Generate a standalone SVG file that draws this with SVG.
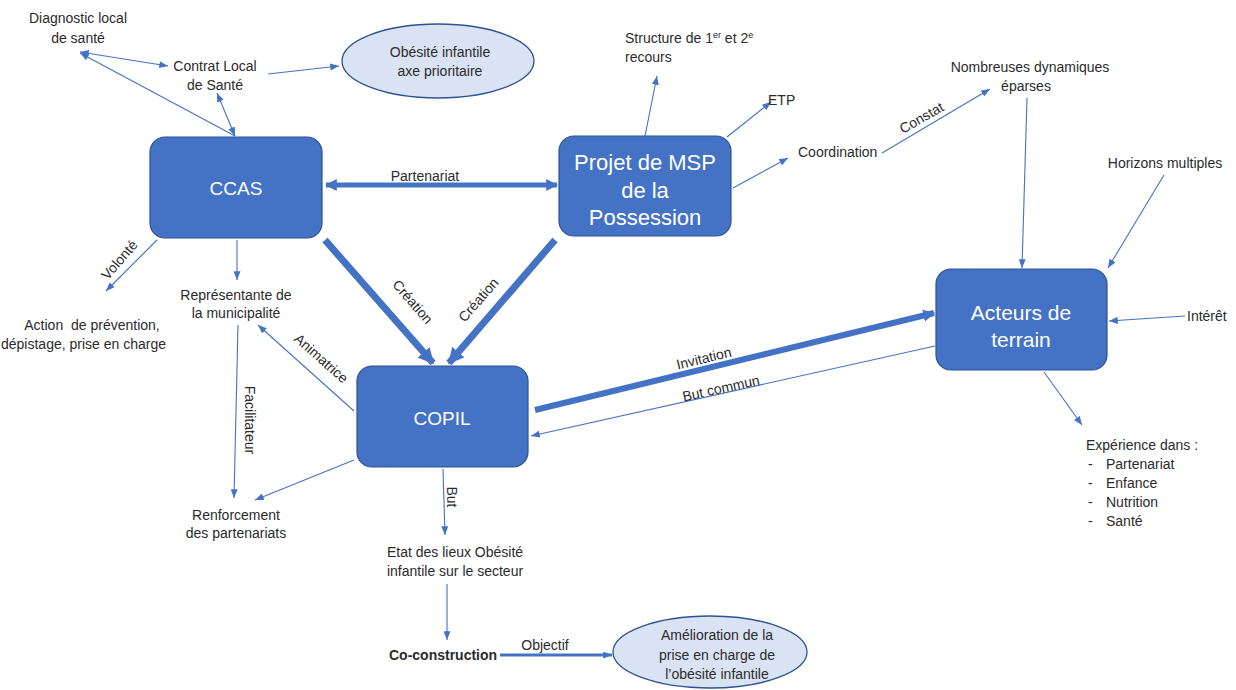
<svg xmlns="http://www.w3.org/2000/svg" width="1236" height="690" viewBox="0 0 1236 690">
<style>
.t{font-family:"Liberation Sans",Arial,sans-serif;font-size:14px;fill:#2b2b2b;text-anchor:middle}
.s{text-anchor:start}
.b{font-weight:bold}
.box{fill:#4472C4;stroke:#2F528F;stroke-width:1.2}
.bt{font-family:"Liberation Sans",Arial,sans-serif;fill:#ffffff;text-anchor:middle}
.ell{fill:#DAE3F3;stroke:#2F528F;stroke-width:1.3}
.c{fill:none;stroke:#4472C4;stroke-width:1.1}
.k{fill:none;stroke:#4472C4}
</style>
<defs>
<marker id="a" viewBox="0 0 10 8" refX="10" refY="4" markerWidth="9" markerHeight="7" markerUnits="userSpaceOnUse" orient="auto-start-reverse"><path d="M0,0 L10,4 L0,8 z" fill="#4472C4"/></marker>
<marker id="m" viewBox="0 0 10 10" refX="9" refY="5" markerWidth="12" markerHeight="14" markerUnits="userSpaceOnUse" orient="auto-start-reverse"><path d="M0,0 L10,5 L0,10 z" fill="#4472C4"/></marker>
<marker id="h" viewBox="0 0 10 10" refX="9" refY="5" markerWidth="16" markerHeight="20" markerUnits="userSpaceOnUse" orient="auto-start-reverse"><path d="M0,0 L10,5 L0,10 z" fill="#4472C4"/></marker>
</defs>
<rect width="1236" height="690" fill="#ffffff"/>

<g id="connectors">
<line class="c" x1="80" y1="52" x2="168" y2="66" marker-start="url(#a)" marker-end="url(#a)"/>
<line class="c" x1="235" y1="136" x2="80" y2="53" marker-end="url(#a)"/>
<line class="c" x1="235" y1="136" x2="217" y2="93" marker-start="url(#a)" marker-end="url(#a)"/>
<line class="c" x1="268" y1="74" x2="339" y2="66" marker-end="url(#a)"/>
<line class="c" x1="645" y1="136" x2="657" y2="76" marker-end="url(#a)"/>
<line class="c" x1="727" y1="137" x2="771" y2="102" marker-end="url(#a)"/>
<line class="c" x1="733" y1="188" x2="788" y2="158" marker-end="url(#a)"/>
<line class="c" x1="882" y1="153" x2="990" y2="89" marker-end="url(#a)"/>
<text class="t" transform="translate(924,122) rotate(-30)">Constat</text>
<line class="c" x1="1027" y1="98" x2="1022" y2="268" marker-end="url(#a)"/>
<line class="c" x1="1164" y1="175" x2="1108" y2="268" marker-end="url(#a)"/>
<line class="c" x1="1185" y1="316" x2="1109" y2="321" marker-end="url(#a)"/>
<line class="c" x1="1044" y1="372" x2="1082" y2="425" marker-end="url(#a)"/>
<line class="k" stroke-width="5" x1="326" y1="185" x2="557" y2="185" marker-start="url(#m)" marker-end="url(#m)"/>
<text class="t" x="425" y="181">Partenariat</text>
<line class="c" x1="157" y1="240" x2="106" y2="291" marker-end="url(#a)"/>
<text class="t" transform="translate(123,263) rotate(-49)">Volonté</text>
<line class="c" x1="237" y1="240" x2="237" y2="280" marker-end="url(#a)"/>
<line class="k" stroke-width="7" x1="325" y1="240" x2="433" y2="363" marker-end="url(#h)"/>
<text class="t" transform="translate(409,305) rotate(49)">Création</text>
<line class="k" stroke-width="7" x1="555" y1="240" x2="449" y2="363" marker-end="url(#h)"/>
<text class="t" transform="translate(482,303) rotate(-49)">Création</text>
<line class="c" x1="238" y1="325" x2="234" y2="498" marker-end="url(#a)"/>
<text class="t" transform="translate(245,420) rotate(90)">Facilitateur</text>
<line class="c" x1="354" y1="411" x2="258" y2="325" marker-end="url(#a)"/>
<text class="t" transform="translate(318,362) rotate(41.5)">Animatrice</text>
<line class="c" x1="354" y1="460" x2="255" y2="500" marker-end="url(#a)"/>
<line class="c" x1="443" y1="469" x2="445" y2="535" marker-end="url(#a)"/>
<text class="t" transform="translate(447,497) rotate(90)">But</text>
<line class="c" x1="447" y1="584" x2="447" y2="640" marker-end="url(#a)"/>
<line class="k" stroke-width="3" x1="500" y1="655" x2="612" y2="655" marker-end="url(#a)"/>
<text class="t" x="545" y="650">Objectif</text>
<line class="k" stroke-width="6" x1="535" y1="410" x2="934" y2="313" marker-end="url(#m)"/>
<text class="t" transform="translate(705,363) rotate(-13.5)">Invitation</text>
<line class="c" x1="935" y1="346" x2="531" y2="436" marker-end="url(#a)"/>
<text class="t" transform="translate(722,393) rotate(-12.5)">But commun</text>
</g>

<g id="ccas"><rect class="box" x="150" y="137" width="172" height="101" rx="15"/><text class="bt" x="236" y="195" font-size="19">CCAS</text></g>
<g id="msp"><rect class="box" x="559" y="136" width="172" height="100" rx="15"/><text class="bt" font-size="22"><tspan x="645" y="170">Projet de MSP</tspan><tspan x="645" y="198">de la</tspan><tspan x="645" y="225">Possession</tspan></text></g>
<g id="copil"><rect class="box" x="357" y="366" width="171" height="101" rx="15"/><text class="bt" x="442" y="425" font-size="19">COPIL</text></g>
<g id="acteurs"><rect class="box" x="936" y="269" width="171" height="101" rx="15"/><text class="bt" font-size="21"><tspan x="1021" y="320">Acteurs de</tspan><tspan x="1021" y="347">terrain</tspan></text></g>

<g id="obesite-axe"><ellipse class="ell" cx="438" cy="61" rx="96" ry="37"/><text class="t"><tspan x="440" y="57">Obésité infantile</tspan><tspan x="440" y="76">axe prioritaire</tspan></text></g>
<g id="amelioration"><ellipse class="ell" cx="710" cy="652" rx="97" ry="36"/><text class="t"><tspan x="717" y="640">Amélioration de la</tspan><tspan x="717" y="660">prise en charge de</tspan><tspan x="717" y="679">l’obésité infantile</tspan></text></g>

<g id="diagnostic"><text class="t"><tspan x="78" y="23">Diagnostic local</tspan><tspan x="78" y="43">de santé</tspan></text></g>
<g id="contrat"><text class="t"><tspan x="215" y="71">Contrat Local</tspan><tspan x="215" y="90">de Santé</tspan></text></g>
<g id="structure"><text class="t s"><tspan x="625" y="43">Structure de 1<tspan font-size="9" dy="-5">er</tspan><tspan dy="5"> et 2</tspan><tspan font-size="9" dy="-5">e</tspan></tspan><tspan x="625" y="62">recours</tspan></text></g>
<g id="etp"><text class="t s" x="768" y="105">ETP</text></g>
<g id="coordination"><text class="t s" x="798" y="157">Coordination</text></g>
<g id="nombreuses"><text class="t"><tspan x="1030" y="72">Nombreuses dynamiques</tspan><tspan x="1026" y="91">éparses</tspan></text></g>
<g id="horizons"><text class="t" x="1165" y="168">Horizons multiples</text></g>
<g id="interet"><text class="t s" x="1187" y="321">Intérêt</text></g>
<g id="experience"><text class="t s"><tspan x="1086" y="450">Expérience dans :</tspan><tspan x="1088" y="469">-</tspan><tspan x="1106" y="469">Partenariat</tspan><tspan x="1088" y="488">-</tspan><tspan x="1106" y="488">Enfance</tspan><tspan x="1088" y="507">-</tspan><tspan x="1106" y="507">Nutrition</tspan><tspan x="1088" y="526">-</tspan><tspan x="1106" y="526">Santé</tspan></text></g>
<g id="representante"><text class="t"><tspan x="236" y="300">Représentante de</tspan><tspan x="236" y="318">la municipalité</tspan></text></g>
<g id="action"><text class="t"><tspan x="92" y="330">Action&#160; de prévention,</tspan><tspan class="s" x="1" y="349">dépistage, prise en charge</tspan></text></g>
<g id="renforcement"><text class="t"><tspan x="236" y="520">Renforcement</tspan><tspan x="236" y="538">des partenariats</tspan></text></g>
<g id="etat"><text class="t"><tspan x="455" y="557">Etat des lieux Obésité</tspan><tspan x="455" y="576">infantile sur le secteur</tspan></text></g>
<g id="coconstruction"><text class="t s b" x="389" y="660">Co-construction</text></g>
</svg>
